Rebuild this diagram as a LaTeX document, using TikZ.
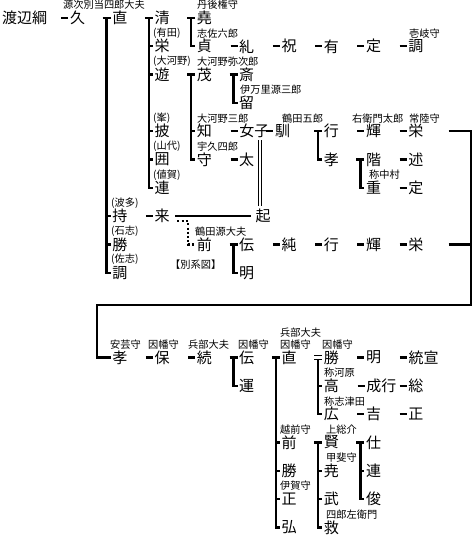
\documentclass[tikz,border=0pt]{standalone}
\usepackage{fontspec}
\setmainfont{Noto Sans CJK JP}

\newcommand{\lead}[1]{\draw[ln] ([xshift=-8.5pt]#1.west) -- ([xshift=-1.5pt]#1.west);}
\newcommand{\kin}[2]{\draw[ln] ([xshift=-9.5pt]#1.west) -- ([xshift=-1.5pt]#1.west);
  \draw[ln] ([xshift=-5.5pt]#1.west) |- ([xshift=-1.5pt]#2.west);}
\newcommand{\twig}[2]{\draw[ln] ([xshift=-5.5pt]#1.west |- #2.west) -- ([xshift=-1.5pt]#2.west);}

\begin{document}
\begin{tikzpicture}[x=1pt,y=-1pt,
  nm/.style={inner sep=0pt, font=\fontsize{15}{16}\selectfont},
  lb/.style={inner sep=0pt, anchor=west, font=\fontsize{10.2}{11}\selectfont},
  ln/.style={line width=2.3pt}]
\useasboundingbox (0,0) rectangle (473,535);

% upper part
\node[nm, anchor=west] (tsuna) at (2,18) {渡辺綱};
\node[nm] (hisa) at (77.5,18) {久};
\node[nm] (nao) at (119.8,18) {直};
\node[nm] (kiyo) at (162.1,18) {清};
\node[nm] (sakae) at (162.1,46.3) {栄};
\node[nm] (asobi) at (162.1,74.6) {遊};
\node[nm] (hiraku) at (162.1,131.2) {披};
\node[nm] (kakou) at (162.1,159.5) {囲};
\node[nm] (tsura) at (162.1,187.8) {連};
\node[nm] (mochi) at (119.8,216.1) {持};
\node[nm] (masaru) at (119.8,244.4) {勝};
\node[nm] (shirabe) at (119.8,272.7) {調};
\node[nm] (takashi) at (204.4,18) {堯};
\node[nm] (sada) at (204.4,46.3) {貞};
\node[nm] (tadasu) at (246.7,46.3) {糺};
\node[nm] (hafuri) at (289,46.3) {祝};
\node[nm] (tamotsu) at (331.3,46.3) {有};
\node[nm] (sadamu) at (373.6,46.3) {定};
\node[nm] (tsuki) at (415.9,46.3) {調};
\node[nm] (shigeru) at (204.4,74.6) {茂};
\node[nm] (itsuki) at (246.7,74.6) {斎};
\node[nm] (tome) at (246.7,102.9) {留};
\node[nm] (tomo) at (204.4,131.2) {知};
\node[nm, anchor=west] (joshi) at (239.2,131.2) {女子};
\node[nm] (naru) at (282.5,131.2) {馴};
\node[nm] (yuki) at (331.3,131.2) {行};
\node[nm] (teru) at (373.6,131.2) {輝};
\node[nm] (sakaeb) at (415.9,131.2) {栄};
\node[nm] (mamoru) at (204.4,159.5) {守};
\node[nm] (futo) at (246.7,159.5) {太};
\node[nm] (takab) at (331.3,159.5) {孝};
\node[nm] (shina) at (373.6,159.5) {階};
\node[nm] (nobu) at (415.9,159.5) {述};
\node[nm] (shige) at (373.6,187.8) {重};
\node[nm] (sadab) at (415.9,187.8) {定};
\node[nm] (kuru) at (162.1,216.1) {来};
\node[nm] (oki) at (263,216.1) {起};
\node[nm] (saki) at (204.4,244.4) {前};
\node[nm] (tsutau) at (246.7,244.4) {伝};
\node[nm] (akira) at (246.7,272.7) {明};
\node[nm] (jun) at (289,244.4) {純};
\node[nm] (yukib) at (331.3,244.4) {行};
\node[nm] (terub) at (373.6,244.4) {輝};
\node[nm] (sakaec) at (415.9,244.4) {栄};

\node[lb] (l-hisa) at (63,5) {源次別当四郎大夫};
\node[lb] (l-sakae) at (153,33.3) {(有田)};
\node[lb] (l-asobi) at (153,61.6) {(大河野)};
\node[lb] (l-hiraku) at (153,118.2) {(峯)};
\node[lb] (l-kakou) at (153,146.5) {(山代)};
\node[lb] (l-tsura) at (153,174.8) {(値賀)};
\node[lb] (l-mochi) at (111,203.1) {(波多)};
\node[lb] (l-masaru) at (111,231.4) {(石志)};
\node[lb] (l-shirabe) at (111,259.7) {(佐志)};
\node[lb] (l-takashi) at (197,5) {丹後権守};
\node[lb] (l-sada) at (197,33.3) {志佐六郎};
\node[lb] (l-tsuki) at (409,33.3) {壱岐守};
\node[lb] (l-shigeru) at (197,61.6) {大河野弥次郎};
\node[lb] (l-tome) at (240,89.9) {伊万里源三郎};
\node[lb] (l-tomo) at (197,118.2) {大河野三郎};
\node[lb] (l-naru) at (282,118.2) {鶴田五郎};
\node[lb] (l-teru) at (352,118.2) {右衛門太郎};
\node[lb] (l-sakaeb) at (409,118.2) {常陸守};
\node[lb] (l-mamoru) at (197,146.5) {宇久四郎};
\node[lb] (l-shige) at (369,174.8) {称中村};
\node[lb] (l-saki) at (195,231.4) {鶴田源大夫};
\node[lb] (betsu) at (170,265) {【別系図】};

% lower part
\node[nm] (takac) at (119.8,357.6) {孝};
\node[nm] (yasu) at (162.1,357.6) {保};
\node[nm] (tsuzuku) at (204.4,357.6) {続};
\node[nm] (tsutaub) at (246.7,357.6) {伝};
\node[nm] (hakobu) at (246.7,385.9) {運};
\node[nm] (naob) at (289,357.6) {直};
\node[nm] (katsu) at (331.3,357.6) {勝};
\node[nm] (akirab) at (373.6,357.6) {明};
\node[nm, anchor=west] (munenobu) at (408.4,357.6) {統宣};
\node[nm] (takad) at (331.3,385.9) {高};
\node[nm, anchor=west] (shigeyuki) at (366.1,385.9) {成行};
\node[nm] (fusa) at (415.9,385.9) {総};
\node[nm] (hiro) at (331.3,414.2) {広};
\node[nm] (yoshi) at (373.6,414.2) {吉};
\node[nm] (tadashi) at (415.9,414.2) {正};
\node[nm] (sakib) at (289,442.5) {前};
\node[nm] (katsub) at (289,470.8) {勝};
\node[nm] (tadashib) at (289,499.1) {正};
\node[nm] (hiromu) at (289,527.4) {弘};
\node[nm] (kashiko) at (331.3,442.5) {賢};
\node[nm] (takashib) at (331.3,470.8) {尭};
\node[nm] (takeshi) at (331.3,499.1) {武};
\node[nm] (sukui) at (331.3,527.4) {救};
\node[nm] (tsukau) at (373.6,442.5) {仕};
\node[nm] (tsurab) at (373.6,470.8) {連};
\node[nm] (toshi) at (373.6,499.1) {俊};

\node[lb] (l-takac) at (110,344.6) {安芸守};
\node[lb] (l-yasu) at (148,344.6) {因幡守};
\node[lb] (l-tsuzuku) at (188,344.6) {兵部大夫};
\node[lb] (l-tsutaub) at (238,344.6) {因幡守};
\node[lb] (l-naob) at (280,332.6) {兵部大夫};
\node[lb] (l-naoc) at (280,344.6) {因幡守};
\node[lb] (l-katsu) at (322,344.6) {因幡守};
\node[lb] (l-takad) at (324,372.9) {称河原};
\node[lb] (l-hiro) at (324,401.2) {称志津田};
\node[lb] (l-sakib) at (280,429.5) {越前守};
\node[lb] (l-kashiko) at (326,429.5) {上総介};
\node[lb] (l-takashib) at (326,457.8) {甲斐守};
\node[lb] (l-tadashib) at (280,486.1) {伊賀守};
\node[lb] (l-sukui) at (326,514.4) {四郎左衛門};

% short leads
\lead{hisa} \lead{tadasu} \lead{hafuri} \lead{tamotsu} \lead{sadamu} \lead{tsuki}
\lead{joshi} \lead{naru} \lead{teru} \lead{sakaeb} \lead{futo} \lead{nobu} \lead{sadab}
\lead{kuru} \lead{jun} \lead{yukib} \lead{terub} \lead{sakaec}
\lead{yasu} \lead{tsuzuku} \lead{akirab} \lead{munenobu} \lead{shigeyuki} \lead{fusa}
\lead{yoshi} \lead{tadashi}

% brackets
\kin{nao}{shirabe} \twig{nao}{mochi} \twig{nao}{masaru}
\kin{kiyo}{tsura} \twig{kiyo}{sakae} \twig{kiyo}{asobi} \twig{kiyo}{hiraku} \twig{kiyo}{kakou}
\kin{takashi}{sada}
\kin{shigeru}{mamoru} \twig{shigeru}{tomo}
\kin{itsuki}{tome}
\kin{yuki}{takab}
\kin{shina}{shige}
\kin{tsutau}{akira}
\kin{tsutaub}{hakobu}
\kin{naob}{hiromu} \twig{naob}{sakib} \twig{naob}{katsub} \twig{naob}{tadashib}
\kin{kashiko}{sukui} \twig{kashiko}{takashib} \twig{kashiko}{takeshi}
\kin{tsukau}{toshi} \twig{tsukau}{tsurab}

\draw[line width=1.3pt] ([xshift=-9.5pt,yshift=1.8pt]katsu.west) -- ([xshift=-1.5pt,yshift=1.8pt]katsu.west);
\draw[line width=1.3pt] ([xshift=-9.5pt,yshift=-1.8pt]katsu.west) -- ([xshift=-1.5pt,yshift=-1.8pt]katsu.west);
\draw[ln] ([xshift=-5.5pt,yshift=-1.8pt]katsu.west) |- ([xshift=-1.5pt]hiro.west);
\twig{katsu}{takad}

% 来 -- 起, 女子 = 起, 来 ... 前
\draw[ln, shorten <=5.5pt, shorten >=4.5pt] (kuru) -- (oki);
\draw[line width=0.9pt, double distance=2.1pt, shorten <=2pt, shorten >=3pt]
  ([xshift=-3pt]oki.north |- joshi.south) -- ([xshift=-3pt]oki.north);
\draw[ln, dash pattern=on 2pt off 2.2pt] ([xshift=7.5pt,yshift=-5pt]kuru.east) -| ([xshift=-9pt]saki.west) -- ([xshift=-1pt]saki.west);

% link to the lower part
\coordinate (turn) at (471,305);
\draw[ln] ([xshift=25pt]sakaeb.east) -| (turn) -| ([xshift=-15pt]takac.west) -- ([xshift=-1.5pt]takac.west);
\draw[ln] ([xshift=25pt]sakaec.east) -- (turn |- sakaec);

\end{tikzpicture}
\end{document}
